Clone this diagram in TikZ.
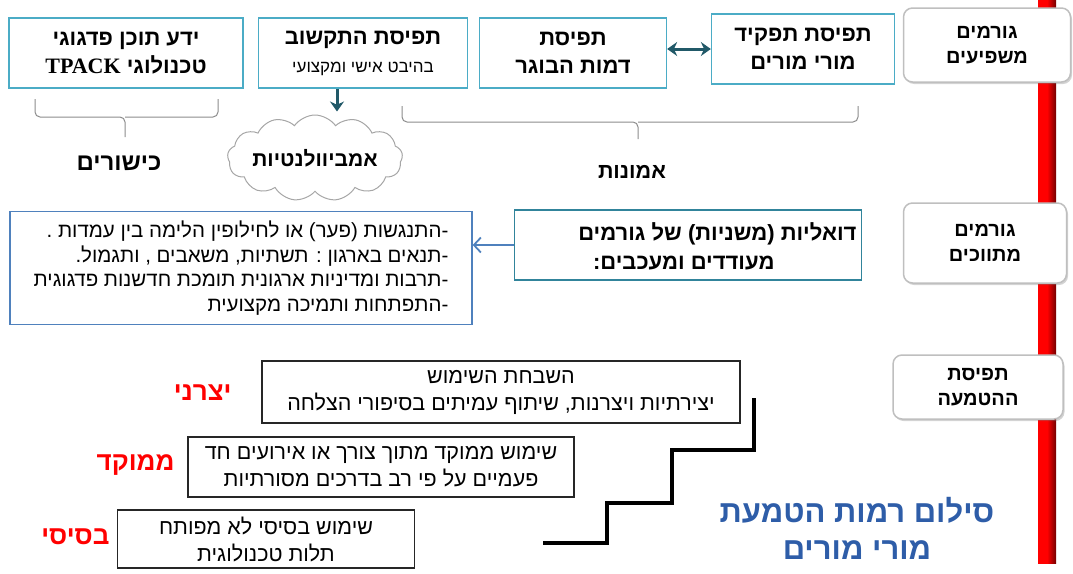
\documentclass[tikz,border=0pt]{standalone}
\usepackage{fontspec}
\setmainfont{Liberation Sans}
\newfontfamily\hebfont[Script=Hebrew]{Liberation Sans}
\newfontfamily\latfont{Liberation Serif}
\TeXXeTstate=1
\usetikzlibrary{arrows.meta,shapes.symbols,shadows}
\newcommand{\heb}[1]{{\hebfont\beginR #1\endR}}
\newcommand{\fs}[2]{\fontsize{#1}{#2}\selectfont}
\definecolor{boxblue}{HTML}{4BACC6}
\definecolor{tealdark}{HTML}{215968}
\definecolor{dualteal}{HTML}{31849B}
\definecolor{midblue}{HTML}{4F81BD}
\definecolor{titleblue}{HTML}{2E5DA8}
\definecolor{bracegray}{HTML}{8C8C8C}
\tikzset{
  topbox/.style={draw=boxblue,line width=1.3pt,fill=white,minimum height=70pt,align=center,font=\fs{22}{28}\bfseries},
  sidebox/.style={draw=gray!50,line width=1.5pt,rounded corners=9pt,fill=white,
    drop shadow={shadow xshift=1.5pt,shadow yshift=-2pt,opacity=.35},align=center,font=\fs{20}{25}\bfseries},
  stairbox/.style={draw=black!85,line width=1.2pt,fill=white,align=center,font=\fs{21.5}{27}},
  level/.style={text=red,anchor=east,font=\fs{26}{30}\bfseries},
  brace/.style={draw=bracegray,line width=1pt,rounded corners=5pt},
  darrow/.style={draw=tealdark,line width=3pt,-{Stealth[length=10pt,width=14pt]}},
}
\begin{document}
\begin{tikzpicture}[x=1pt,y=-1pt]
\useasboundingbox (0,0) rectangle (1073,573);
% red axis behind the side labels
\shade[left color=red,right color=red!45!black,middle color=red] (1038,0) rectangle (1056,563);
\node[sidebox,minimum width=167pt,minimum height=74pt] (infl) at (987,45) {\heb{גורמים}\\\heb{משפיעים}};
\node[sidebox,minimum width=163pt,minimum height=80pt] (medi) at (985,243) {\heb{גורמים}\\\heb{מתווכים}};
\node[sidebox,minimum width=170pt,minimum height=64pt] (impl) at (978,387) {\heb{תפיסת}\\\heb{ההטמעה}};
% top row
\node[topbox,minimum width=234pt] (tpack) at (126,53) {\heb{ידע תוכן פדגוגי}\\\heb{טכנולוגי \beginL{\latfont TPACK}\endL}};
\node[topbox,minimum width=209pt] (ict) at (363,53) {\heb{תפיסת התקשוב}\\{\fs{17}{18}\mdseries\heb{בהיבט אישי ומקצועי}}};
\node[topbox,minimum width=187pt] (grad) at (573,53) {\heb{תפיסת}\\\heb{דמות הבוגר}};
\node[topbox,minimum width=183pt] (role) at (803,49) {\heb{תפיסת תפקיד}\\\heb{מורי מורים}};
\draw[darrow,{Stealth[length=10pt,width=14pt]}-{Stealth[length=10pt,width=14pt]}] (role.west -| grad.east) -- (role.west);
\node[cloud,cloud puffs=13,cloud puff arc=110,cloud ignores aspect,inner sep=0pt,draw=gray!70,line width=1pt,fill=white,
  minimum width=158pt,minimum height=86pt,font=\fs{21}{24}\bfseries] (amb) at (315,158) {\heb{אמביוולנטיות}};
\draw[darrow,shorten >=3pt] ([xshift=-26pt]ict.south) -- ([xshift=-26pt]ict.south |- amb.north);
% braces
\draw[brace] (35,99) |- (125,117) -- (125,137);
\draw[brace] (218,99) |- (125,117);
\draw[brace] (402,106) |- (638,122) -- (638,139);
\draw[brace] (858,106) |- (638,122);
\node[font=\fs{24}{26}\bfseries] (skills) at (119,163) {\heb{כישורים}};
\node[font=\fs{21.5}{24}\bfseries] (beliefs) at (632,172) {\heb{אמונות}};
% middle row
\node[draw=dualteal,line width=1.8pt,minimum width=347pt,minimum height=70pt] (dual) at (688,245) {};
\node[anchor=east,align=right,font=\fs{22}{29}\bfseries] (dualtxt) at (860,246)
  {\heb{דואליות (משניות) של גורמים}\\\heb{מעודדים ומעכבים:}\hspace*{82pt}};
\node[draw=midblue,line width=1.3pt,minimum width=462pt,minimum height=113pt,align=right,font=\fs{20.5}{24.5}] (info) at (241,268)
  {\heb{-התנגשות (פער) או לחילופין הלימה בין עמדות .}\\
   \heb{-תנאים בארגון : תשתיות, משאבים , ותגמול.}\\
   \heb{-תרבות ומדיניות ארגונית תומכת חדשנות פדגוגית}\\
   \heb{-התפתחות ותמיכה מקצועית}};
\draw[midblue,line width=1.8pt,-{Straight Barb[length=7pt,width=15pt]}] (dual.west) -- (dual.west -| info.east);
% levels of implementation
\draw[line width=4pt] (754,398) |- (672,450) |- (607,503) |- (543,543);
\node[stairbox,minimum width=478pt,minimum height=62pt] (creative) at (501,392)
  {\heb{השבחת השימוש}\\\heb{יצירתיות ויצרנות, שיתוף עמיתים בסיפורי הצלחה}};
\node[stairbox,minimum width=386pt,minimum height=60pt] (focused) at (381,467)
  {\heb{שימוש ממוקד מתוך צורך או אירועים חד}\\\heb{פעמיים על פי רב בדרכים מסורתיות}};
\node[stairbox,minimum width=297pt,minimum height=58pt] (basic) at (266,539)
  {\heb{שימוש בסיסי לא מפותח}\\\heb{תלות טכנולוגית}};
\foreach \nm/\y/\x/\txt in {lcre/393/235/יצרני,lfoc/465/178/ממוקד,lbas/537/113/בסיסי}
  \node[level] (\nm) at (\x,\y) {\heb{\txt}};
\node[text=titleblue,align=center,font=\fs{31}{37}\bfseries] (title) at (857,528) {\heb{סילום רמות הטמעת}\\\heb{מורי מורים}};
\end{tikzpicture}
\end{document}
